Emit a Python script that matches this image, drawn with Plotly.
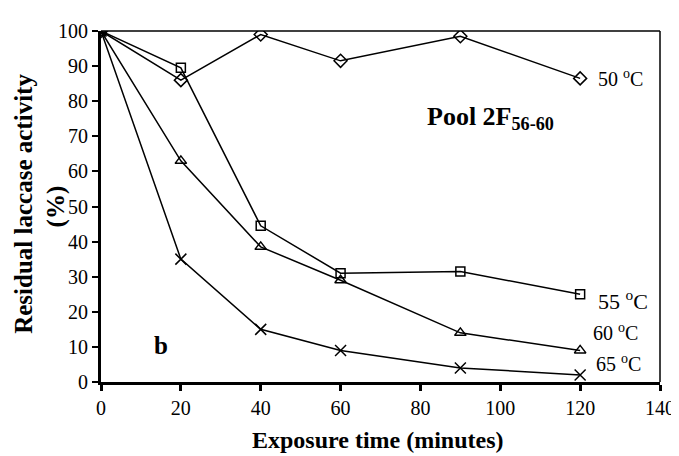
import plotly.graph_objects as go

time_min = [0, 20, 40, 60, 90, 120]
act_50 = [100, 86, 99, 91.5, 98.5, 86.5]
act_55 = [100, 89.5, 44.5, 31, 31.5, 25]
act_60 = [100, 63, 38.5, 29, 14, 9]
act_65 = [100, 35, 15, 9, 4, 2]

series = [
    ("50 ºC", act_50, "diamond-open", 10),
    ("55 ºC", act_55, "square-open", 9),
    ("60 ºC", act_60, "triangle-up-open", 10),
    ("65 ºC", act_65, "x-thin-open", 11),
]

FONT = "Liberation Serif"
fig = go.Figure()
for name, vals, sym, sz in series:
    fig.add_trace(go.Scatter(
        x=time_min, y=vals, mode="lines+markers", name=name,
        line=dict(color="black", width=1.5),
        marker=dict(symbol=sym, size=sz, color="black",
                    line=dict(color="black", width=1.5)),
        showlegend=False,
    ))

anns = [
    dict(x=130.2, y=86.6, text="50 <sup>o</sup>C", size=20),
    dict(x=130.7, y=23.4, text="55 <sup>o</sup>C", size=22),
    dict(x=128.8, y=14.2, text="60 <sup>o</sup>C", size=20),
    dict(x=129.5, y=5.4, text="65 <sup>o</sup>C", size=20),
    dict(x=97.5, y=75.2, text="<b>Pool 2F<sub>56-60</sub></b>", size=26),
    dict(x=15, y=10.5, text="<b>b</b>", size=25),
]
for a in anns:
    fig.add_annotation(x=a["x"], y=a["y"], xref="x", yref="y", text=a["text"],
                       xanchor="center", yanchor="middle",
                       showarrow=False, font=dict(family=FONT, size=a["size"], color="black"))

fig.add_annotation(x=-0.14, y=0.507, xref="paper", yref="paper",
                   xanchor="center", yanchor="middle",
                   text="<b>Residual laccase activity</b>", textangle=-90,
                   showarrow=False, font=dict(family=FONT, size=25, color="black"))
fig.add_annotation(x=-0.08, y=0.501, xref="paper", yref="paper",
                   xanchor="center", yanchor="middle",
                   text="<b>(%)</b>", textangle=-90,
                   showarrow=False, font=dict(family=FONT, size=25, color="black"))
fig.add_annotation(x=0.495, y=-0.165, xref="paper", yref="paper",
                   xanchor="center", yanchor="middle",
                   text="<b>Exposure time (minutes)</b>",
                   showarrow=False, font=dict(family=FONT, size=24, color="black"))

fig.update_layout(
    width=679, height=456,
    margin=dict(l=93, r=16, t=23, b=82),
    paper_bgcolor="white", plot_bgcolor="white",
    font=dict(family=FONT, size=20, color="black"),
    xaxis=dict(range=[0, 140], tickvals=[0, 20, 40, 60, 80, 100, 120, 140],
               showgrid=False, zeroline=False, showline=True, linecolor="black",
               linewidth=3, ticks="outside", ticklen=6, tickwidth=2.5,
               tickcolor="black", mirror=False),
    yaxis=dict(range=[0, 100], tickvals=list(range(0, 101, 10)),
               showgrid=False, zeroline=False, showline=True, linecolor="black",
               linewidth=3, ticks="outside", ticklen=6, tickwidth=2,
               tickcolor="black"),
)
fig.add_shape(type="line", xref="paper", yref="paper", x0=0, x1=1, y0=1, y1=1,
              line=dict(color="black", width=1.5))
fig.add_shape(type="line", xref="paper", yref="paper", x0=1, x1=1, y0=0, y1=1,
              line=dict(color="black", width=1.5))

fig.write_html("out.html")
